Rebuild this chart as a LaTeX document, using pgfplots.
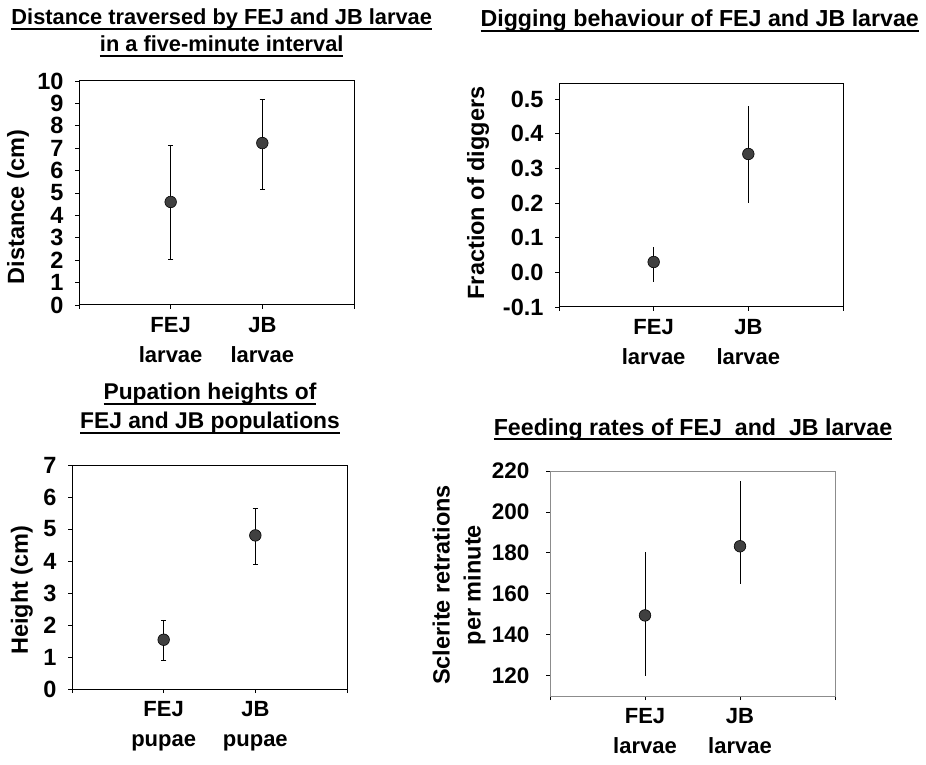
\documentclass[border=0pt]{standalone}
\usepackage{pgfplots}
\pgfplotsset{compat=1.18}
\usepackage{fontspec}
\setmainfont{Liberation Sans}

% underline with a heavy rule, as in the scanned titles
\newcommand\ul[1]{\setbox0\hbox{#1}\rlap{\rule[-5pt]{\wd0}{1.8pt}}\box0}
\newcommand\ttl[1]{\fontsize{#1}{26}\selectfont\bfseries}

\pgfplotsset{
  panel/.style={
    scale only axis, anchor=south west,
    xmin=0, xmax=3, xtick={0,1,2,3},
    xtick pos=bottom, ytick pos=left,
    tick align=outside, major tick length=4pt,
    tick style={black, line width=0.8pt},
    axis line style={line width=1pt},
    /pgf/number format/assume math mode=true,
    yticklabel style={xshift=-8pt, font=\fontsize{23.5}{26}\selectfont\bfseries},
    xticklabel style={align=center, yshift=-5pt, font=\fontsize{22}{30}\selectfont\bfseries},
    ylabel style={anchor=center, font=\fontsize{23.5}{31}\selectfont\bfseries},
    clip=false,
  },
  pts/.style={only marks, mark=*, mark size=5.8pt,
    mark options={fill=black!75, draw=black, line width=0.6pt},
    error bars/.cd, y dir=both, y explicit,
    error bar style={line width=0.8pt, black}},
}

\begin{document}
\begin{tikzpicture}
\useasboundingbox (0,0) rectangle (926pt,764pt);

% titles
\node[anchor=base] at (221.7pt,739pt) {\ttl{21.8}\ul{Distance traversed by FEJ and JB larvae}};
\node[anchor=base] at (221.7pt,712pt) {\ttl{21.8}\ul{in a five-minute interval}};
\node[anchor=base] at (699.7pt,737pt) {\ttl{23.2}\ul{Digging behaviour of FEJ and JB larvae}};
\node[anchor=base] at (210pt,364pt) {\ttl{22.8}\ul{Pupation heights of}};
\node[anchor=base] at (210pt,335pt) {\ttl{22.8}\ul{FEJ and JB populations}};
\node[anchor=base] at (693pt,329pt) {\ttl{23.2}\ul{Feeding rates of FEJ \ and \ JB larvae}};

% distance
\begin{axis}[panel, at={(79pt,459pt)}, width=275pt, height=224pt,
  ymin=0, ymax=10, ytick={0,1,...,10},
  xticklabels={,{FEJ\\larvae},{JB\\larvae},},
  ylabel={Distance (cm)},
  ylabel style={at={(axis description cs:-0.222,0.4375)}}]
\addplot+[pts, error mark=-, error mark options={rotate=90, mark size=2.8pt, line width=0.8pt}]
  coordinates {(1,4.60) += (0,2.54) -= (0,2.55)
               (2,7.23) += (0,1.97) -= (0,2.05)};
\end{axis}

% digging
\begin{axis}[panel, at={(559pt,457pt)}, width=284pt, height=224pt,
  ymin=-0.1, ymax=0.547, ytick={-0.1,0,0.1,0.2,0.3,0.4,0.5},
  yticklabels={-0.1,0.0,0.1,0.2,0.3,0.4,0.5},
  xticklabels={,{FEJ\\larvae},{JB\\larvae},},
  ylabel={Fraction of diggers},
  ylabel style={at={(axis description cs:-0.285,0.509)}}]
\addplot+[pts, error mark=none]
  coordinates {(1,0.030) += (0,0.042) -= (0,0.058)
               (2,0.342) += (0,0.138) -= (0,0.143)};
\end{axis}

% pupation height
\begin{axis}[panel, at={(72pt,75pt)}, width=275pt, height=224pt,
  ymin=0, ymax=7, ytick={0,1,...,7},
  xticklabels={,{FEJ\\pupae},{JB\\pupae},},
  ylabel={Height (cm)},
  ylabel style={at={(axis description cs:-0.182,0.442)}}]
\addplot+[pts, error mark=-, error mark options={rotate=90, mark size=2.8pt, line width=0.8pt}]
  coordinates {(1,1.54) += (0,0.59) -= (0,0.66)
               (2,4.80) += (0,0.84) -= (0,0.91)};
\end{axis}

% feeding
\begin{axis}[panel, at={(550pt,68pt)}, width=285pt, height=225pt,
  ymin=110, ymax=220, ytick={120,140,...,220},
  axis line style={line width=0.8pt, black!45},
  yticklabel style={xshift=-5pt, font=\fontsize{22.5}{26}\selectfont\bfseries},
  xticklabels={,{FEJ\\larvae},{JB\\larvae},},
  ylabel={Sclerite retrations\\per minute},
  ylabel style={align=center, at={(axis description cs:-0.319,0.493)}}]
\addplot+[pts, error mark=none]
  coordinates {(1,149.4) += (0,30.9) -= (0,29.4)
               (2,183.2) += (0,31.8) -= (0,18.6)};
\end{axis}
\end{tikzpicture}
\end{document}
